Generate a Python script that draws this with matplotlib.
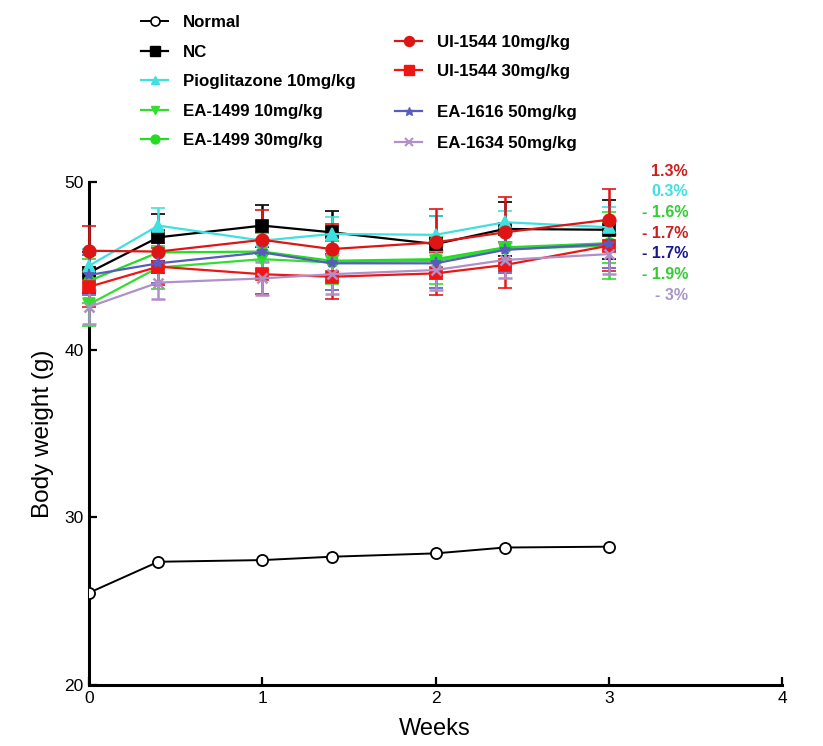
import matplotlib
matplotlib.use("Agg")
import matplotlib.pyplot as plt
from matplotlib.lines import Line2D

plt.rcParams['font.family'] = ['Liberation Sans', 'DejaVu Sans']

weeks = [0, 0.4, 1, 1.4, 2, 2.4, 3]

normal = [25.5, 27.35, 27.45, 27.65, 27.85, 28.2, 28.25]

series_names = ["NC", "Pioglitazone 10mg/kg", "EA-1499 10mg/kg", "EA-1499 30mg/kg",
                "UI-1544 10mg/kg", "UI-1544 30mg/kg", "EA-1616 50mg/kg", "EA-1634 50mg/kg"]

nc = [44.6, 46.7, 47.4, 47.0, 46.3, 47.2, 47.15]
pio = [45.0, 47.4, 46.5, 46.9, 46.85, 47.6, 47.3]
ea1499_10 = [42.7, 44.9, 45.4, 45.2, 45.3, 46.0, 46.2]
ea1499_30 = [44.1, 45.8, 45.85, 45.3, 45.4, 46.1, 46.35]
ui_10 = [45.9, 45.85, 46.55, 46.0, 46.4, 47.0, 47.75]
ui_30 = [43.75, 44.95, 44.5, 44.35, 44.55, 45.05, 46.2]
ea1616 = [44.45, 45.15, 45.8, 45.15, 45.15, 45.95, 46.3]
ea1634 = [42.55, 44.0, 44.25, 44.5, 44.75, 45.35, 45.7]

nc_err = [1.2, 1.4, 1.25, 1.3, 1.7, 1.6, 1.75]
pio_err = [1.0, 1.05, 1.2, 1.0, 1.1, 0.7, 1.2]
ea1499_10_err = [1.3, 1.3, 1.2, 1.3, 1.4, 1.3, 2.0]
ea1499_30_err = [1.3, 1.0, 1.1, 1.2, 1.2, 1.1, 1.2]
ui_10_err = [1.5, 1.3, 1.8, 1.5, 2.0, 2.1, 1.85]
ui_30_err = [1.2, 1.1, 1.2, 1.3, 1.3, 1.35, 1.5]
ea1616_err = [1.2, 1.2, 1.5, 1.6, 1.5, 1.4, 1.4]
ea1634_err = [1.0, 1.0, 1.0, 1.2, 1.2, 1.1, 1.2]

pct_labels = ["1.3%", "0.3%", "- 1.6%", "- 1.7%", "- 1.7%", "- 1.9%", "- 3%"]
pct_colors = ["#cc1f1f", "#3fe0e0", "#33cc33", "#cc1f1f", "#1a1a8c", "#33cc33", "#a996c8"]

fig = plt.figure(figsize=(8.23, 7.46), dpi=100)
ax = fig.add_axes([89/823, 61/746, 693/823, 503/746])

styles = [
    (nc, nc_err, "black", "s", 9, "NC"),
    (pio, pio_err, "#3fe0e0", "^", 8, "Pioglitazone 10mg/kg"),
    (ea1499_10, ea1499_10_err, "#33dd33", "v", 8, "EA-1499 10mg/kg"),
    (ea1499_30, ea1499_30_err, "#22dd22", "o", 8, "EA-1499 30mg/kg"),
    (ui_10, ui_10_err, "#dd1515", "o", 9, "UI-1544 10mg/kg"),
    (ui_30, ui_30_err, "#ee1515", "s", 9, "UI-1544 30mg/kg"),
    (ea1616, ea1616_err, "#5a5ac0", "*", 8, "EA-1616 50mg/kg"),
    (ea1634, ea1634_err, "#b090c8", "x", 7, "EA-1634 50mg/kg"),
]

handles = {}
for vals, errs, col, mk, ms, name in styles:
    c = ax.errorbar(weeks, vals, yerr=errs, color=col, marker=mk, markersize=ms,
                    linewidth=1.6, elinewidth=1.8, capsize=5, capthick=1.8,
                    markeredgewidth=1.2 if mk != "x" else 1.8, clip_on=False, zorder=3)
    handles[name] = Line2D([], [], color=col, marker=mk, markersize=ms * 0.8, linewidth=1.6,
                           markeredgewidth=1.0 if mk != "x" else 1.5)

ln, = ax.plot(weeks, normal, color="black", marker="o", markersize=8, markerfacecolor="white",
              markeredgewidth=1.3, linewidth=1.4, zorder=4)
handles["Normal"] = Line2D([], [], color="black", marker="o", markersize=6.5,
                           markerfacecolor="white", markeredgewidth=1.2, linewidth=1.4)

ax.set_xlim(0, 4)
ax.set_ylim(20, 50)
ax.set_xticks([0, 1, 2, 3, 4])
ax.set_yticks([20, 30, 40, 50])
for s in ["top", "right"]:
    ax.spines[s].set_visible(False)
for s in ["left", "bottom"]:
    ax.spines[s].set_linewidth(2.2)
ax.tick_params(direction="in", length=6, width=1.6, labelsize=12.5, pad=4)

ax.set_ylabel("Body weight (g)", fontsize=17.5)
ax.yaxis.set_label_coords(-0.05, 0.5)
ax.set_xlabel("Weeks", fontsize=17)
ax.xaxis.set_label_coords(0.499, -0.065)

kw = dict(frameon=False, prop={"weight": "bold", "size": 12.2},
          handlelength=1.6, handletextpad=0.9, borderpad=0, borderaxespad=0)

l1_names = ["Normal", "NC", "Pioglitazone 10mg/kg", "EA-1499 10mg/kg", "EA-1499 30mg/kg"]
l2_names = ["UI-1544 10mg/kg", "UI-1544 30mg/kg"]
l3_names = ["EA-1616 50mg/kg", "EA-1634 50mg/kg"]

leg1 = fig.legend([handles[n] for n in l1_names], l1_names, loc="upper left",
                  bbox_to_anchor=(141/823, 1 - 15/746), labelspacing=0.86, **kw)
leg2 = fig.legend([handles[n] for n in l2_names], l2_names, loc="upper left",
                  bbox_to_anchor=(395/823, 1 - 35/746), labelspacing=0.85, **kw)
leg3 = fig.legend([handles[n] for n in l3_names], l3_names, loc="upper left",
                  bbox_to_anchor=(395/823, 1 - 105/746), labelspacing=0.95, **kw)

for i, (txt, col) in enumerate(zip(pct_labels, pct_colors)):
    fig.text(688/823, 1 - (171 + i * 20.7)/746, txt, color=col, fontsize=11.5,
             fontweight="bold", ha="right", va="center")

fig.savefig("out.png", dpi=100)
